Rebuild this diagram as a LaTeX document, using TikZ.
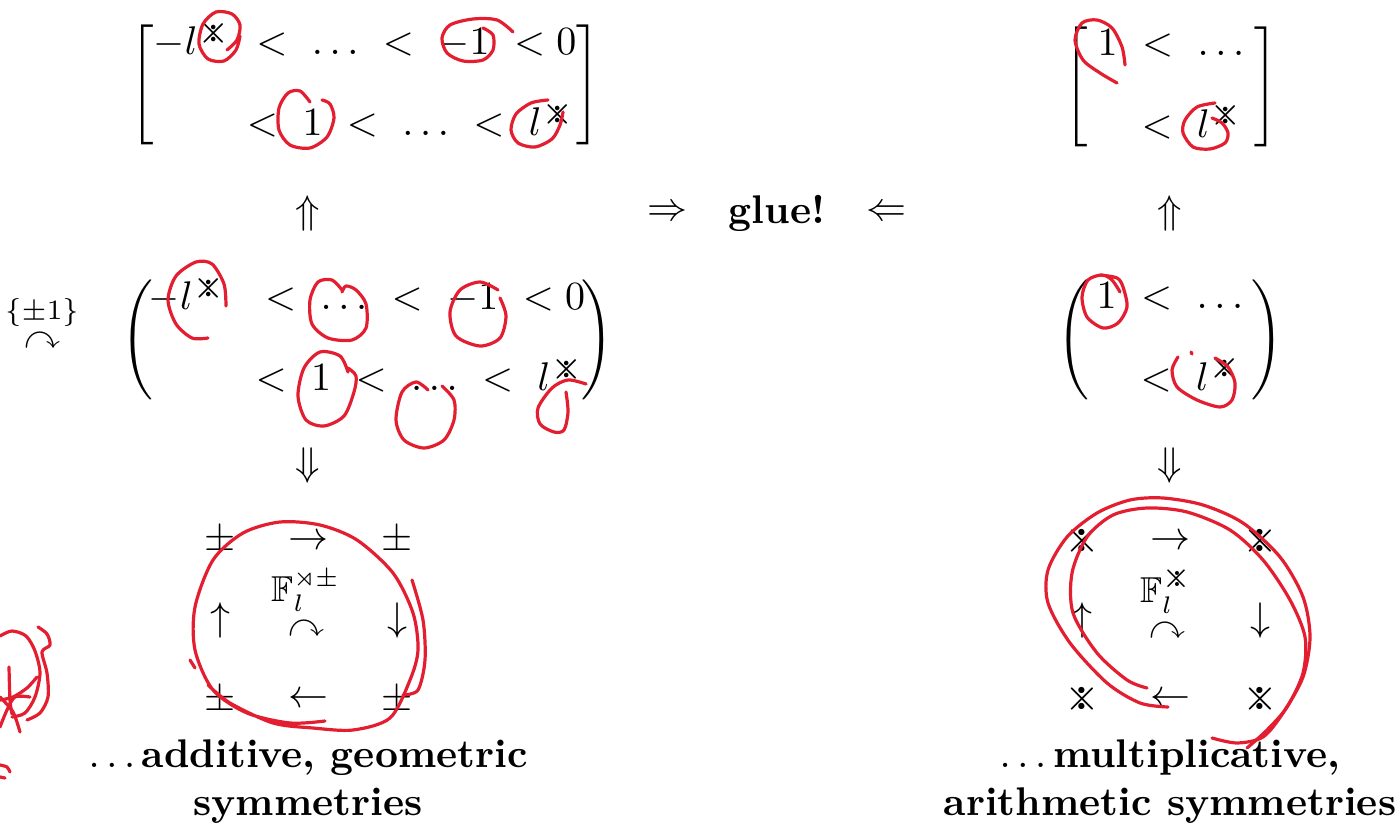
\documentclass[tikz,border=0pt]{standalone}
\usepackage{amsmath,amssymb}
\usepackage{tikz}
\usetikzlibrary{positioning}
\definecolor{penred}{RGB}{227,30,48}
\newcommand{\kome}{\mathord{\ooalign{\raisebox{-.0375em}{\scalebox{1.15}{$\times$}}\cr\hidewidth\raise.2em\hbox{$\boldsymbol{\cdot}$}\hidewidth\cr\hidewidth\lower.2em\hbox{$\boldsymbol{\cdot}$}\hidewidth\cr}}}
\newcommand{\komes}{\mathord{\ooalign{\raisebox{-.0525em}{\scalebox{1.3}{$\scriptstyle\times$}}\cr\hidewidth\raise.15em\hbox{$\scriptstyle\boldsymbol{\cdot}$}\hidewidth\cr\hidewidth\lower.15em\hbox{$\scriptstyle\boldsymbol{\cdot}$}\hidewidth\cr}}}
\newcommand{\gapdots}{\mathinner{.\mkern3mu.\mkern3mu.}}
\tikzset{
  glyph/.style={inner sep=0pt},
  smallglyph/.style={inner sep=0pt, font=\small},
  caption/.style={inner sep=0pt, align=center, font=\bfseries},
  pen/.style={draw=penred, line width=0.8pt, line cap=round, line join=round}
}

\begin{document}
\begin{tikzpicture}[x=0.25pt, y=-0.25pt]
\useasboundingbox (0,0) rectangle (1399,832);

% additive side
\node[glyph] (addtop) at (365,85) {$\left[\begin{array}{@{}r@{}}
  -l^{\komes}\ <\ \gapdots\ <\ -1\ <0\\[8pt]
  <\ 1\ <\ \gapdots\ <\ l^{\komes}
\end{array}\right]$};
\node[glyph] (addup) at (308,214) {$\Uparrow$};
\node[glyph] (addmid) at (367,340) {$\left(\begin{array}{@{\hspace{-1pt}}r@{\hspace{-1pt}}}
  -l^{\komes}\ \ <\ \gapdots\ <\ -1\ <0\\[8pt]
  <\ 1\ <\ \gapdots\ <\ l^{\komes}
\end{array}\right)$};
\node[glyph, font=\scriptsize] (pmone) at (42,313) {$\{\pm1\}$};
\node[smallglyph, below=1pt of pmone] (signarc) {$\curvearrowright$};
\node[glyph] (adddown) at (308,466) {$\Downarrow$};

\node[glyph] (a11) at (220,540) {$\pm$};
\node[glyph] (a12) at (308,542) {$\rightarrow$};
\node[glyph] (a13) at (397,540) {$\pm$};
\node[glyph] (a21) at (220,620) {$\uparrow$};
\node[glyph] (a23) at (397,620) {$\downarrow$};
\node[glyph] (a31) at (220,700) {$\pm$};
\node[glyph] (a32) at (308,700) {$\leftarrow$};
\node[glyph] (a33) at (397,700) {$\pm$};
\node[smallglyph] (addfield) at (306,591) {$\mathbb{F}_l^{\rtimes\pm}$};
\node[smallglyph, below=2pt of addfield] (addarc) {$\curvearrowright$};

\node[caption] (addcap) at (308,782) {$\ldots\,$additive, geometric\\symmetries};

% glue
\node[glyph, font=\bfseries] (glue) at (777,213) {glue!};
\node[glyph, left=10pt of glue] (toglue) {$\Rightarrow$};
\node[glyph, right=10pt of glue] (fromglue) {$\Leftarrow$};

% multiplicative side
\node[glyph] (multop) at (1171,87) {$\left[\begin{array}{@{\hspace{2.5pt}}r@{\hspace{2.5pt}}}
  1\ <\ \gapdots\\[8pt]
  <\ l^{\komes}
\end{array}\right]$};
\node[glyph] (mulup) at (1170,214) {$\Uparrow$};
\node[glyph] (mulmid) at (1170,340) {$\left(\begin{array}{@{\hspace{2pt}}r@{\hspace{2pt}}}
  1\ <\ \gapdots\\[8pt]
  <\ l^{\komes}
\end{array}\right)$};
\node[glyph] (muldown) at (1170,466) {$\Downarrow$};

\node[glyph] (m11) at (1082,542) {$\kome$};
\node[glyph] (m12) at (1170,542) {$\rightarrow$};
\node[glyph] (m13) at (1260,542) {$\kome$};
\node[glyph] (m21) at (1082,620) {$\uparrow$};
\node[glyph] (m23) at (1260,620) {$\downarrow$};
\node[glyph] (m31) at (1082,700) {$\kome$};
\node[glyph] (m32) at (1170,700) {$\leftarrow$};
\node[glyph] (m33) at (1260,700) {$\kome$};
\node[smallglyph] (mulfield) at (1167,590) {$\mathbb{F}_l^{\komes}$};
\node[smallglyph, below=2pt of mulfield] (mularc) {$\curvearrowright$};

\node[caption] (mulcap) at (1170,782) {$\ldots\,$multiplicative,\\arithmetic symmetries};

% red pen marks
\draw[pen] plot[smooth] coordinates {(227,50) (237,40) (240,25) (232,14) (216,12) (203,24) (199,44) (208,59) (224,61) (236,50) (240,36)};
\draw[pen] plot[smooth] coordinates {(513,32) (497,20) (473,19) (450,25) (442,38) (447,53) (463,61) (483,60) (493,50) (493,35) (483,28)};
\draw[pen] plot[smooth] coordinates {(310,102) (300,91) (288,93) (279,108) (279,130) (290,145) (310,148) (327,137) (334,118) (330,104) (322,100)};
\draw[pen] plot[smooth] coordinates {(548,100) (531,103) (516,114) (511,130) (518,143) (535,147) (552,139) (560,125) (563,112)};
\draw[pen] plot[smooth] coordinates {(1125,65) (1122,47) (1112,28) (1097,20) (1082,23) (1075,40) (1083,60) (1100,73) (1117,83)};
\draw[pen] plot[smooth] coordinates {(1215,103) (1197,107) (1185,120) (1183,133) (1193,147) (1210,149) (1225,143) (1228,133) (1222,123) (1212,118)};

\draw[pen] plot[smooth] coordinates {(226,306) (224,284) (212,264) (196,262) (176,276) (168,300) (176,324) (192,338) (208,338)};
\draw[pen] plot[smooth] coordinates {(342,290) (332,280) (318,282) (310,300) (312,324) (328,338) (352,340) (366,328) (366,304) (356,290) (346,286) (342,292)};
\draw[pen] plot[smooth] coordinates {(498,290) (480,282) (460,290) (450,312) (456,336) (480,346) (500,338) (506,316) (500,298)};
\draw[pen] plot[smooth] coordinates {(348,372) (340,356) (320,352) (304,368) (298,396) (306,420) (324,426) (344,416) (354,392) (356,376) (348,368)};
\draw[pen] plot[smooth] coordinates {(428,390) (416,382) (402,392) (396,420) (404,440) (424,448) (444,440) (454,420) (454,400) (442,386)};
\draw[pen] plot[smooth] coordinates {(586,384) (568,380) (552,388) (538,408) (540,424) (554,432) (564,430) (568,412) (566,392)};
\draw[pen] plot[smooth] coordinates {(1120,292) (1112,280) (1102,275) (1088,280) (1082,297) (1087,317) (1103,328) (1118,323) (1127,307) (1123,287) (1117,278) (1100,275)};
\draw[pen] plot[smooth] coordinates {(1178,357) (1172,370) (1177,387) (1197,400) (1220,407) (1232,400) (1235,383) (1228,367) (1215,358)};
\draw[pen] (1191,352) -- (1192,354);

\draw[pen] plot[smooth] coordinates {(325,721) (290,723) (247,713) (213,690) (195,650) (195,607) (213,560) (243,533) (280,522) (320,525) (357,540) (393,573) (413,613) (418,650) (410,680) (390,718) (353,730) (313,728) (273,723) (230,703) (208,685)};
\draw[pen] plot[smooth] coordinates {(412,580) (423,620) (425,660) (418,690) (403,695)};
\draw[pen] (190,660) -- (195,668);

\draw[pen] plot[smooth] coordinates {(1147,688) (1127,680) (1097,653) (1073,613) (1072,573) (1087,537) (1113,515) (1147,508) (1187,512) (1230,530) (1263,560) (1290,600) (1305,637) (1303,673) (1287,707) (1267,730) (1247,748)};
\draw[pen] plot[smooth] coordinates {(1168,707) (1140,703) (1107,683) (1070,643) (1048,603) (1048,570) (1067,537) (1097,513) (1130,500) (1163,498) (1203,505) (1243,523) (1280,557) (1303,597) (1310,637) (1303,677) (1283,713) (1263,737) (1237,743) (1212,738)};

\draw[pen] plot[smooth] coordinates {(0,636) (12,631) (26,636) (35,651) (40,673) (35,697) (25,713) (12,717)};
\draw[pen] plot[smooth] coordinates {(38,627) (47,634) (50,645) (42,652) (47,673) (48,697) (40,713) (27,720)};
\draw[pen] plot[smooth] coordinates {(9,667) (10,700) (12,714)};
\draw[pen] plot[smooth] coordinates {(0,697) (13,712) (20,732)};
\draw[pen] plot[smooth] coordinates {(30,697) (15,697) (7,710) (0,727)};
\draw[pen] plot[smooth] coordinates {(37,677) (27,688) (13,697) (0,700)};
\draw[pen] plot[smooth] coordinates {(0,765) (7,767) (10,772)};
\draw[pen] plot[smooth] coordinates {(0,777) (5,778)};
\end{tikzpicture}
\end{document}
